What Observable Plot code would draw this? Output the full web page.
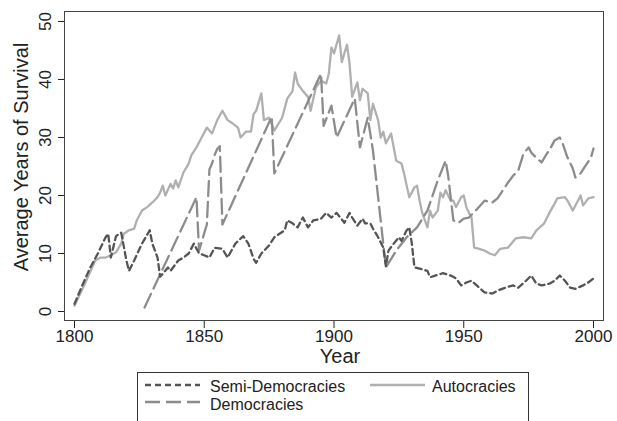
<!DOCTYPE html>
<html><head><meta charset="utf-8">
<script src="https://cdn.jsdelivr.net/npm/d3@7"></script>
<script src="https://cdn.jsdelivr.net/npm/@observablehq/plot@0.6"></script>
<style>
body{margin:0;background:#fff;overflow:hidden;font-family:"Liberation Sans",Arial,sans-serif;}
#wrap{position:relative;width:617px;height:421px;overflow:hidden;background:#fff;}
#chart svg{display:block;}
#legend{position:absolute;left:0;top:370px;}
</style></head>
<body><div id="wrap"><div id="chart"></div><svg id="legend" width="617" height="51"></svg></div>
<script>
const xTicks = [1800, 1850, 1900, 1950, 2000];
const yTicks = [0, 10, 20, 30, 40, 50];
const seriesNames = ["Semi-Democracies", "Democracies", "Autocracies"];

const semiYears = [1800,1803,1806,1809,1812,1813,1814,1816,1818,1820,1821,1823,1826,1829,1830,1832,1833,1834,1836,1837,1840,1842,1844,1846,1848,1850,1852,1854,1857,1859,1862,1865,1867,1869,1870,1872,1875,1877,1881,1882,1884,1886,1888,1890,1892,1895,1897,1899,1901,1904,1906,1907,1909,1911,1912,1914,1915,1917,1919,1920,1921,1923,1925,1926,1928,1929,1930,1931,1933,1936,1937,1939,1942,1945,1947,1949,1951,1953,1956,1958,1961,1963,1966,1969,1971,1974,1976,1978,1980,1983,1985,1987,1989,1991,1993,1996,1998,2000];
const semiValues = [1.3,4.5,7.5,10.0,12.8,13.4,9.3,13.0,13.6,8.8,7.0,8.8,11.7,14.0,11.7,9.3,6.0,6.5,7.6,7.0,8.8,9.3,10.0,11.7,10.0,9.7,9.3,11.0,10.8,9.3,11.7,13.0,11.7,9.1,8.4,10.0,11.4,12.8,14.0,15.7,15.2,14.5,16.2,14.5,15.7,16.0,17.0,16.2,17.0,15.3,17.0,16.2,14.8,16.0,15.2,15.2,14.3,12.8,11.0,7.8,10.5,11.7,12.8,12.2,14.0,14.5,11.7,7.6,7.4,7.0,5.9,6.2,6.6,6.2,5.7,4.5,5.0,5.3,4.1,3.3,3.1,3.6,4.1,4.5,4.1,5.3,6.2,4.8,4.5,4.8,5.3,6.2,5.3,4.1,3.9,4.5,5.0,5.7];

const demoYears = [1827,1847,1848,1849,1850,1851,1852,1853,1854,1855,1856,1857,1876,1877,1895,1896,1899,1901,1908,1910,1913,1915,1920,1924,1928,1932,1936,1940,1943,1944,1946,1948,1950,1952,1955,1958,1961,1963,1967,1969,1971,1973,1975,1976,1978,1980,1982,1983,1985,1987,1988,1990,1992,1993,1995,1997,1999,2000];
const demoValues = [0.7,19.7,10.5,12.0,13.5,15.0,24.5,25.5,27.0,28.0,28.5,15.0,33.6,23.8,41.0,32.0,35.5,30.0,36.7,28.3,33.4,27.8,7.6,10.5,12.8,14.5,17.4,22.6,26.0,23.4,15.7,15.3,16.0,16.2,17.6,19.1,18.8,19.5,22.2,23.4,24.3,27.2,28.3,27.4,26.5,25.7,27.2,27.8,29.5,30.0,29.1,26.5,24.7,23.1,23.8,25.2,26.5,28.1];

const autoYears = [1800,1804,1808,1810,1812,1814,1816,1818,1819,1821,1823,1824,1826,1828,1830,1832,1833,1834,1835,1837,1838,1839,1840,1842,1844,1845,1847,1849,1851,1853,1855,1857,1859,1861,1863,1864,1866,1868,1869,1870,1872,1873,1875,1877,1880,1882,1884,1885,1886,1888,1890,1891,1893,1895,1897,1898,1899,1900,1902,1903,1905,1906,1907,1909,1910,1911,1913,1914,1915,1917,1918,1919,1920,1922,1923,1924,1926,1927,1928,1929,1931,1932,1933,1934,1936,1937,1938,1940,1941,1942,1943,1945,1946,1947,1949,1950,1951,1952,1953,1954,1956,1958,1960,1962,1964,1967,1970,1973,1976,1978,1981,1983,1985,1986,1989,1990,1992,1994,1995,1996,1998,2000];
const autoValues = [1.0,4.8,8.8,9.3,9.3,9.7,10.2,11.7,13.4,14.0,14.3,15.7,17.4,18.0,18.8,19.7,20.5,21.7,20.0,22.0,21.2,22.6,21.4,24.0,25.5,26.9,28.3,30.0,31.7,30.7,33.0,34.6,33.0,32.4,31.7,30.0,31.0,31.0,34.0,34.6,37.6,33.0,33.4,31.2,33.4,36.7,38.0,41.2,39.3,38.0,37.0,34.6,38.6,39.8,39.3,41.0,45.5,44.5,47.6,43.0,46.0,42.7,37.0,39.5,36.4,38.4,37.6,33.0,35.8,33.0,30.0,31.0,29.0,30.7,28.3,26.0,25.5,23.8,21.7,19.7,21.4,21.7,19.1,17.0,14.5,17.4,16.2,17.4,20.5,19.7,20.9,19.1,19.1,18.0,19.7,20.0,18.0,17.0,16.2,11.0,10.8,10.5,10.0,9.7,10.8,11.0,12.6,12.8,12.6,14.0,15.2,17.0,18.6,19.5,19.7,19.1,17.4,19.1,20.0,18.3,19.5,19.7];

const toRows = (years, values) => years.map((y, i) => ({year: y, value: values[i]}));
const semiData = toRows(semiYears, semiValues);
const demoData = toRows(demoYears, demoValues);
const autoData = toRows(autoYears, autoValues);

const styles = {
  "Semi-Democracies": {stroke: "#555555", dash: "6,4"},
  "Democracies": {stroke: "#8c8c8c", dash: "15,6"},
  "Autocracies": {stroke: "#b0b0b0", dash: null}
};
const font = "Liberation Sans, Arial, Helvetica, sans-serif";

const chart = Plot.plot({
  width: 617, height: 370,
  marginLeft: 64, marginRight: 14, marginTop: 11, marginBottom: 50,
  style: {fontFamily: font, fontSize: "17px", color: "#222", background: "#fff", overflow: "visible"},
  x: {domain: [1796.15, 2003.85], ticks: xTicks, tickSize: 8, tickPadding: 1, tickFormat: d => String(d), label: null},
  y: {domain: [-1.55, 51.72], ticks: yTicks, tickSize: 6, tickFormat: () => "", label: null},
  marks: [
    Plot.frame({stroke: "#444", strokeWidth: 1}),
    Plot.lineY(autoData, {x: "year", y: "value", stroke: styles["Autocracies"].stroke, strokeWidth: 2.3}),
    Plot.lineY(demoData, {x: "year", y: "value", stroke: styles["Democracies"].stroke, strokeWidth: 2.3, strokeDasharray: styles["Democracies"].dash}),
    Plot.lineY(semiData, {x: "year", y: "value", stroke: styles["Semi-Democracies"].stroke, strokeWidth: 2.3, strokeDasharray: styles["Semi-Democracies"].dash}),
    Plot.text(yTicks, {y: d => d, text: d => String(d), frameAnchor: "left", textAnchor: "middle", lineAnchor: "middle", dx: -18.5, rotate: -90, fontSize: 17, fill: "#222"}),
    Plot.text(["Average Years of Survival"], {text: d => d, frameAnchor: "left", textAnchor: "middle", lineAnchor: "middle", dx: -43, dy: -9, rotate: -90, fontSize: 20, fill: "#222"}),
    Plot.text(["Year"], {text: d => d, frameAnchor: "bottom", textAnchor: "middle", dx: 6, dy: 42, lineAnchor: "bottom", fontSize: 20, fill: "#222"})
  ]
});
document.getElementById("chart").appendChild(chart);

// legend below the plot
const lg = d3.select("#legend");
lg.append("rect").attr("x", 137.5).attr("y", 2.5).attr("width", 391).attr("height", 80)
  .attr("fill", "none").attr("stroke", "#333").attr("stroke-width", 1);
const items = [
  {name: "Semi-Democracies", x: 145, y: 15, tx: 210, ty: 22},
  {name: "Autocracies", x: 370, y: 15, tx: 432, ty: 22},
  {name: "Democracies", x: 145, y: 32, tx: 210, ty: 40}
];
items.forEach(it => {
  const s = styles[it.name];
  lg.append("line").attr("x1", it.x).attr("x2", it.x + 55).attr("y1", it.y).attr("y2", it.y)
    .attr("stroke", s.stroke).attr("stroke-width", 2.3).attr("stroke-dasharray", s.dash);
  lg.append("text").attr("x", it.tx).attr("y", it.ty).attr("font-family", font)
    .attr("font-size", 16).attr("fill", "#222").text(it.name);
});
</script>
</body></html>
